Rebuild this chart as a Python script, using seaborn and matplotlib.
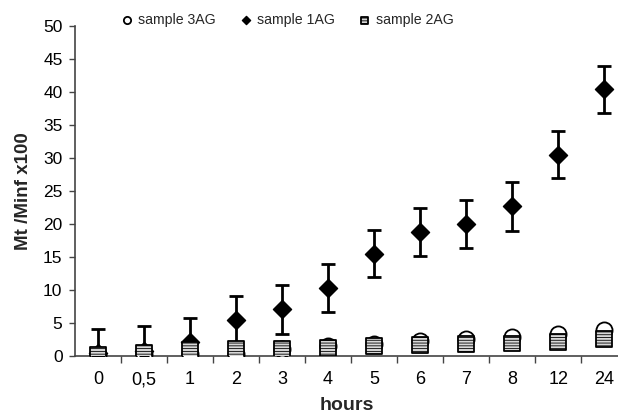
import numpy as np
import pandas as pd
import matplotlib
matplotlib.use("Agg")
import matplotlib.pyplot as plt
import seaborn as sns

hours = ['0', '0,5', '1', '2', '3', '4', '5', '6', '7', '8', '12', '24']
sample_3ag = [0.2, 0.3, 0.3, 0.3, 1.0, 1.5, 1.8, 2.3, 2.6, 2.9, 3.3, 3.9]
sample_1ag = [0.4, 0.8, 2.1, 5.4, 7.1, 10.3, 15.5, 18.8, 20.0, 22.7, 30.5, 40.4]
err_1ag = [3.7, 3.7, 3.7, 3.7, 3.7, 3.6, 3.6, 3.6, 3.7, 3.7, 3.6, 3.6]
sample_2ag = [0.2, 0.5, 1.0, 1.1, 1.1, 1.2, 1.5, 1.7, 1.8, 1.9, 2.1, 2.6]

sns.set_theme(style="white")
plt.rcParams['font.family'] = ['Liberation Sans', 'DejaVu Sans']
plt.rcParams['hatch.linewidth'] = 0.6

pos = np.arange(len(hours))
df = pd.DataFrame({'pos': pos, 'hours': hours, 's3': sample_3ag,
                   's1': sample_1ag, 'e1': err_1ag, 's2': sample_2ag})

fig = plt.figure(figsize=(6.18, 4.13), dpi=100)
ax = fig.add_axes([75/618, 57/413, 1 - 75/618, 330/413])

sns.scatterplot(data=df, x='pos', y='s3', ax=ax, marker='o', s=135,
                facecolor='white', edgecolor='black', linewidth=1.3,
                zorder=3, label='sample 3AG')
ax.errorbar(df['pos'], df['s1'], yerr=df['e1'], fmt='none', ecolor='black',
            elinewidth=2, capsize=5, capthick=2, zorder=4)
sns.scatterplot(data=df, x='pos', y='s1', ax=ax, marker='D', s=85,
                color='black', edgecolor='black', linewidth=1,
                zorder=5, label='sample 1AG')
sns.scatterplot(data=df, x='pos', y='s2', ax=ax, marker='s', s=125,
                facecolor='#d8d8d8', edgecolor='black', linewidth=1.3,
                hatch='------', zorder=6, label='sample 2AG')

ax.set_xlim(-0.5, 11.3)
ax.set_ylim(0, 50)
ax.set_yticks(np.arange(0, 51, 5))
ax.set_xticks(pos)
ax.set_xticklabels(hours)
ax.set_xticks(np.arange(0.5, 11, 1), minor=True)
ax.tick_params(axis='x', which='major', length=0, labelsize=13, pad=11, colors='black')
ax.tick_params(axis='x', which='minor', length=5, width=1, direction='out', bottom=True, color='#444444')
ax.tick_params(axis='y', which='major', length=4, width=1, direction='out', left=True,
               labelsize=12.5, pad=5, colors='black', color='#444444')

for s in ['top', 'right']:
    ax.spines[s].set_visible(False)
for s in ['left', 'bottom']:
    ax.spines[s].set_color('#444444')
    ax.spines[s].set_linewidth(1.2)

ax.set_xlabel('hours', fontsize=14, fontweight='bold', labelpad=6)
ax.set_ylabel('Mt /Minf x100', fontsize=13.5, fontweight='bold', labelpad=8)

handles, labels = ax.get_legend_handles_labels()
ax.get_legend().remove()
fig.legend(handles, labels, loc='center', bbox_to_anchor=(287/618, 1 - 20/413),
           ncol=3, frameon=False, fontsize=10.2, markerscale=0.45,
           handletextpad=0.3, columnspacing=1.6, handlelength=1.0)

fig.savefig('out.png', dpi=100)
